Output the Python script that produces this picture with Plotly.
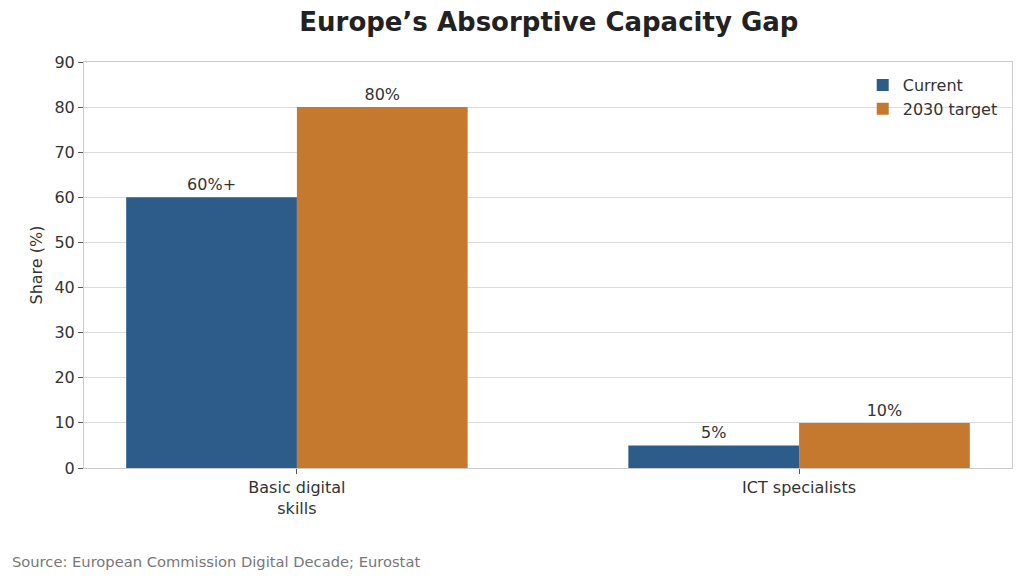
import plotly.graph_objects as go

categories = ["Basic digital<br>skills", "ICT specialists"]
current = [60, 5]
target = [80, 10]
current_labels = ["60%+", "5%"]
target_labels = ["80%", "10%"]
y_ticks = [0, 10, 20, 30, 40, 50, 60, 70, 80, 90]

BLUE = "#2E5C8A"
ORANGE = "#C4792E"
FONT = "DejaVu Sans"

fig = go.Figure()
fig.add_trace(go.Bar(x=categories, y=current, name="Current", marker_color=BLUE,
                     marker_line_width=0, text=current_labels, textposition="outside",
                     textfont=dict(size=16, color="#333333", family=FONT), cliponaxis=False))
fig.add_trace(go.Bar(x=categories, y=target, name="2030 target", marker_color=ORANGE,
                     marker_line_width=0, text=target_labels, textposition="outside",
                     textfont=dict(size=16, color="#333333", family=FONT), cliponaxis=False))

fig.update_layout(
    width=1024, height=581,
    margin=dict(l=84, r=12, t=62, b=113),
    paper_bgcolor="white", plot_bgcolor="white",
    barmode="group", bargap=0.32, bargroupgap=0,
    font=dict(family=FONT, size=16, color="#333333"),
    title=dict(text="<b>Europe’s Absorptive Capacity Gap</b>", x=0.536, xanchor="center",
               y=0.962, yanchor="middle", font=dict(size=26, color="#222222", family=FONT)),
    legend=dict(x=0.99, xanchor="right", y=0.985, yanchor="top", bgcolor="rgba(255,255,255,0)",
                font=dict(size=16, color="#333333"), itemwidth=30),
    showlegend=True,
)
fig.update_xaxes(range=[-0.424, 1.424], showline=True, linecolor="#cccccc", linewidth=1, mirror=True,
                 ticks="outside", ticklen=5, tickcolor="#555555", showgrid=False,
                 tickfont=dict(size=16, color="#333333"))
fig.update_yaxes(range=[0, 90], tickvals=y_ticks, showline=True, linecolor="#cccccc", linewidth=1,
                 mirror=True, ticks="outside", ticklen=5, tickcolor="#555555",
                 showgrid=True, gridcolor="#dddddd", gridwidth=1, zeroline=False,
                 tickfont=dict(size=16, color="#333333"),
                 title=dict(text="Share (%)", font=dict(size=16, color="#333333"), standoff=7))

fig.add_annotation(text="Source: European Commission Digital Decade; Eurostat", xref="paper", yref="paper",
                   x=(10 - 84) / 928, y=-93 / 406, xanchor="left", yanchor="middle", showarrow=False,
                   font=dict(size=14.7, color="#777777", family=FONT))

fig.write_html("out.html")
